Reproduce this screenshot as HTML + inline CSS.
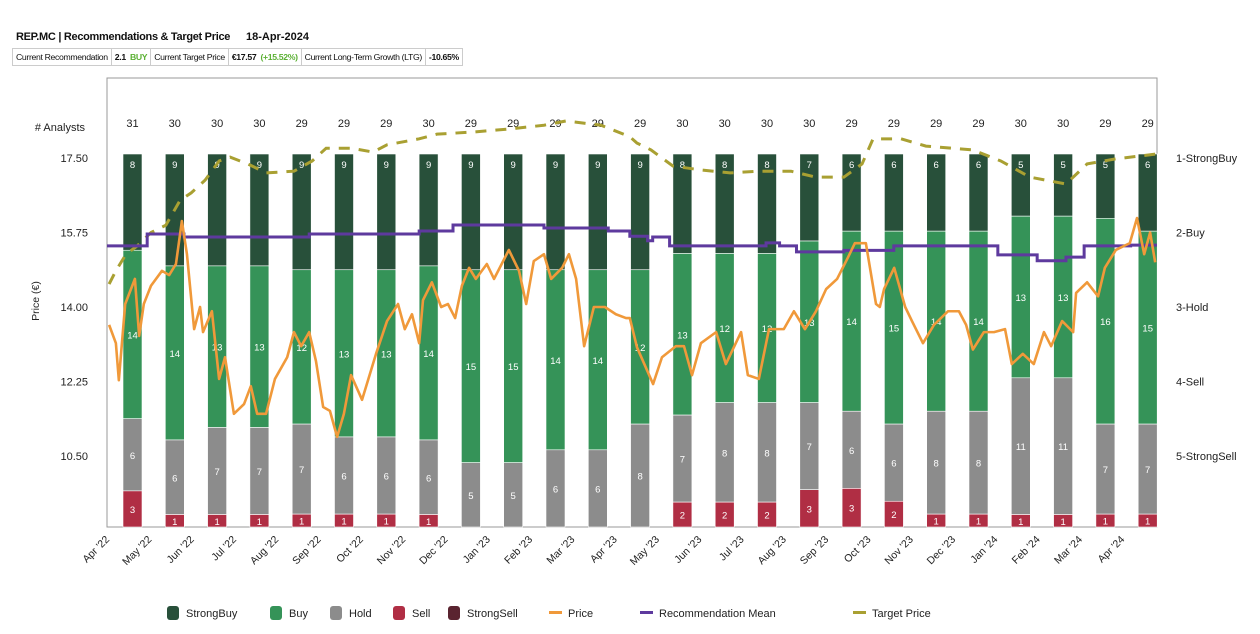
<!DOCTYPE html>
<html><head><meta charset="utf-8">
<style>
body{margin:0;background:#fff;width:1260px;height:634px;overflow:hidden;font-family:"Liberation Sans",sans-serif;}
#title{position:absolute;left:16px;top:31px;font-size:11px;font-weight:bold;color:#111;letter-spacing:-0.3px}
#date{position:absolute;left:246px;top:31px;font-size:11px;font-weight:bold;color:#111}
table{position:absolute;left:12px;top:48px;border-collapse:collapse;font-size:8.7px;letter-spacing:-0.35px}
td{border:1px solid #ccc;padding:2px 3px;height:12px;white-space:nowrap;color:#111}
svg{position:absolute;left:0;top:0}
</style></head><body>
<div id="title">REP.MC | Recommendations &amp; Target Price</div>
<div id="date">18-Apr-2024</div>
<table><tr>
<td>Current Recommendation</td>
<td><b>2.1</b> &nbsp;<b style="color:#5bb033">BUY</b></td>
<td>Current Target Price</td>
<td><b>€17.57</b> &nbsp;<b style="color:#5bb033">(+15.52%)</b></td>
<td>Current Long-Term Growth (LTG)</td>
<td><b>-10.65%</b></td>
</tr></table>
<svg id="chart" width="1260" height="634"></svg>
<script>
const months=["Apr '22","May '22","Jun '22","Jul '22","Aug '22","Sep '22","Oct '22","Nov '22","Dec '22","Jan '23","Feb '23","Mar '23","Apr '23","May '23","Jun '23","Jul '23","Aug '23","Sep '23","Oct '23","Nov '23","Dec '23","Jan '24","Feb '24","Mar '24","Apr '24"];
const strongBuy=[8,9,9,9,9,9,9,9,9,9,9,9,9,8,8,8,7,6,6,6,6,5,5,5,6];
const buy=[14,14,13,13,12,13,13,14,15,15,14,14,12,13,12,12,13,14,15,14,14,13,13,16,15];
const hold=[6,6,7,7,7,6,6,6,5,5,6,6,8,7,8,8,7,6,6,8,8,11,11,7,7];
const sell=[3,1,1,1,1,1,1,1,0,0,0,0,0,2,2,2,3,3,2,1,1,1,1,1,1];
const strongSell=[0,0,0,0,0,0,0,0,0,0,0,0,0,0,0,0,0,0,0,0,0,0,0,0,0];
const priceTicks=[17.5,15.75,14.0,12.25,10.5];
const recTicks=["1-StrongBuy","2-Buy","3-Hold","4-Sell","5-StrongSell"];
// time in months since 1-Apr-2022
const priceT=[0.05,0.21,0.28,0.43,0.66,0.76,0.87,1.04,1.30,1.47,1.63,1.77,1.89,2.06,2.20,2.27,2.48,2.65,2.79,3.00,3.24,3.40,3.55,3.76,3.97,4.26,4.42,4.59,4.78,4.94,5.11,5.27,5.44,5.60,5.77,6.03,6.36,6.62,6.88,7.04,7.21,7.38,7.47,7.68,7.90,8.06,8.23,8.39,8.56,8.72,8.98,9.15,9.50,9.74,9.91,10.09,10.33,10.50,10.76,10.92,11.09,11.28,11.51,11.77,12.03,12.27,12.36,12.53,12.91,13.12,13.45,13.64,13.83,14.04,14.40,14.63,14.99,15.15,15.41,15.65,16.00,16.24,16.50,16.76,17.00,17.26,17.52,17.68,17.94,18.18,18.27,18.37,18.61,18.87,19.03,19.29,19.55,19.88,20.14,20.31,20.47,20.73,20.97,21.23,21.39,21.65,21.91,22.15,22.32,22.58,22.84,22.91,23.17,23.43,23.59,23.85,24.18,24.35,24.52,24.66,24.78];
const priceV=[13.58,13.15,12.28,14.07,14.66,13.32,14.07,14.5,14.85,14.75,15.01,16.02,15.24,13.48,14.0,13.41,13.9,12.31,12.82,11.49,11.72,12.14,11.49,11.49,12.31,12.82,13.41,13.08,13.41,12.73,11.65,11.56,10.95,11.49,12.4,11.82,12.9,13.67,14.07,13.48,13.83,13.15,14.16,14.58,14.0,14.07,13.74,14.5,14.92,14.66,15.01,14.66,15.34,14.85,14.07,15.08,15.24,14.66,14.92,15.24,14.66,13.08,14.0,14.0,13.83,13.74,13.74,13.05,12.19,12.82,13.08,13.08,12.4,13.15,13.41,12.66,13.41,12.4,12.31,13.48,13.48,13.9,13.48,13.9,14.42,14.66,15.17,15.5,15.5,14.07,14.0,14.42,14.92,14.0,13.67,13.15,13.58,13.9,13.9,13.58,13.0,13.41,13.41,13.48,12.66,12.9,12.66,13.41,13.08,13.67,13.41,14.33,14.58,14.25,14.92,15.34,15.5,16.09,15.24,15.75,15.05];
const targetT=[0.05,0.21,0.45,0.71,1.04,1.39,1.73,1.99,2.32,2.65,2.91,3.33,3.76,4.42,4.85,5.18,5.77,6.29,6.62,7.38,7.80,8.65,9.50,10.33,10.85,11.68,12.36,12.53,12.86,13.38,14.04,14.73,15.41,16.17,16.76,17.42,17.85,18.11,18.77,19.36,20.47,21.13,21.82,22.67,23.17,23.85,24.78];
const targetV=[14.54,14.85,15.24,15.43,15.75,15.92,16.51,16.68,16.98,17.43,17.52,17.36,17.15,17.19,17.43,17.73,17.73,17.64,17.81,17.95,18.06,18.11,18.18,18.27,18.37,18.27,18.0,17.85,17.69,17.31,17.22,17.15,17.19,17.19,17.05,17.05,17.36,17.95,17.95,17.78,17.69,17.43,17.05,16.89,17.36,17.48,17.59];
const recT=[0,0.95,1.82,4.78,7.38,8.18,10.33,11.85,12.36,12.78,12.9,13.3,15.58,15.9,16.3,17.42,18.6,21.06,21.99,22.67,23.1,24.2,24.82];
const recV=[2.18,2.02,2.06,2.02,1.98,1.90,1.94,1.98,2.05,2.11,2.06,2.18,2.14,2.18,2.26,2.24,2.18,2.30,2.38,2.33,2.18,2.17,2.17];

const NS="http://www.w3.org/2000/svg";
const svg=document.getElementById('chart');
const L=107,R=1157,T=78,B=527,BT=154;
const FF='Liberation Sans, sans-serif';
const xT=t=>L+t*42.3;
const xBar=i=>132.5+i*42.3;
const yP=p=>158+(17.5-p)/1.75*74.5;
const yR=r=>158+(r-1)*74.5;
function el(tag,attrs,parent){const e=document.createElementNS(NS,tag);for(const k in attrs)e.setAttribute(k,attrs[k]);(parent||svg).appendChild(e);return e;}

const frame=el('rect',{x:L,y:T,width:R-L,height:B-T,fill:'none',stroke:'#999','stroke-width':1});



const colors=['#28503a','#359358','#8c8c8c','#b02e44','#5a2430'];
const series=[strongBuy,buy,hold,sell,strongSell];
const gBars=el('g',{});


const segNames=['strongbuy','buy','hold','sell','strongsell'];
for(let i=0;i<months.length;i++){
  const tot=series.reduce((a,s)=>a+s[i],0);
  const unit=(B-BT)/tot;
  let y=BT;
  for(let k=0;k<5;k++){
    const v=series[k][i]; if(!v) continue;
    const h=v*unit;
    const r=el('rect',{x:xBar(i)-9.5,y:y,width:19,height:h,fill:colors[k],stroke:'#fff','stroke-width':0.6},gBars);
    
    
    const ty=k===0?y+14:y+h/2+4;
    const tx=el('text',{x:xBar(i),y:ty,'text-anchor':'middle','font-size':9.5,fill:'#fff','font-family':FF},gBars);
    tx.textContent=v;
    
    
    y+=h;
  }
  const c=el('text',{x:xBar(i),y:127,'text-anchor':'middle','font-size':11,fill:'#222','font-family':FF});
  c.textContent=tot;
  
  
  const ml=el('text',{x:0,y:0,'text-anchor':'end','font-size':10.5,fill:'#222','font-family':FF,transform:`translate(${xT(i)+3},${540}) rotate(-45)`});
  ml.textContent=months[i];
  
  
}
function path(ts,vs,yf,step){
  let d='';
  for(let j=0;j<ts.length;j++){
    const x=xT(ts[j]),y=yf(vs[j]);
    if(j===0) d+=`M${x},${y}`;
    else if(step) d+=`H${x}V${y}`;
    else d+=`L${x},${y}`;
  }
  return d;
}
const tp=el('path',{d:path(targetT,targetV,yP),fill:'none',stroke:'#a9a032','stroke-width':3,'stroke-dasharray':'11,9'});


const rm=el('path',{d:path(recT,recV,yR,true),fill:'none',stroke:'#5e3a9e','stroke-width':3});


const pr=el('path',{d:path(priceT,priceV,yP),fill:'none',stroke:'#f0993a','stroke-width':2.6,'stroke-linejoin':'round'});



priceTicks.forEach(p=>{
  const t=el('text',{x:88,y:yP(p)+4,'text-anchor':'end','font-size':11,fill:'#222','font-family':FF});
  t.textContent=p.toFixed(2);
  
  
});
recTicks.forEach((r,k)=>{
  const t=el('text',{x:1176,y:yR(k+1)+4,'font-size':11,fill:'#222','font-family':FF});
  t.textContent=r;
  
  
});
const an=el('text',{x:85,y:131,'text-anchor':'end','font-size':11,fill:'#222','font-family':FF});
an.textContent='# Analysts';


const yl=el('text',{x:0,y:0,'text-anchor':'middle','font-size':10.5,fill:'#222','font-family':FF,transform:'translate(39,301) rotate(-90)'});
yl.textContent='Price (€)';



const legend=[['StrongBuy',colors[0],167,'box'],['Buy',colors[1],270,'box'],['Hold',colors[2],330,'box'],['Sell',colors[3],393,'box'],['StrongSell',colors[4],448,'box'],['Price','#f0993a',549,'line'],['Recommendation Mean','#5e3a9e',640,'line'],['Target Price','#a9a032',853,'line']];
legend.forEach(([n,c,x,type])=>{
  const g=el('g',{});
  
  
  if(type==='box'){el('rect',{x:x,y:606,width:12,height:14,rx:3,fill:c},g);el('text',{x:x+19,y:617,'font-size':11,fill:'#222','font-family':FF},g).textContent=n;}
  else{el('rect',{x:x,y:611,width:13,height:3,fill:c},g);el('text',{x:x+19,y:617,'font-size':11,fill:'#222','font-family':FF},g).textContent=n;}
});
</script>
</body></html>
